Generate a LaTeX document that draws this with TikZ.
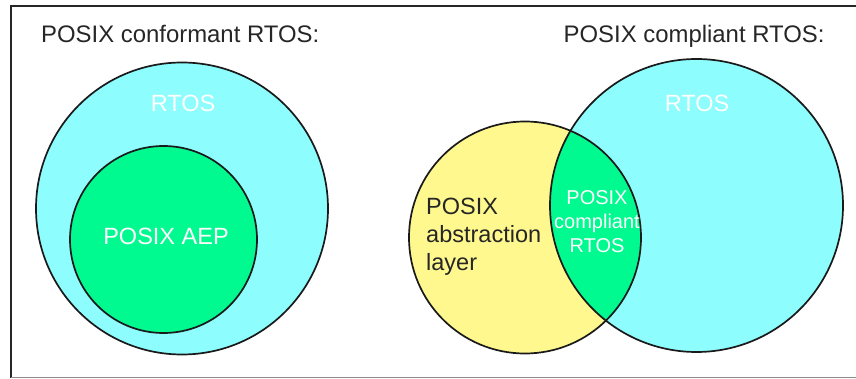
\documentclass[tikz,border=0pt]{standalone}
\usepackage{fontspec}
\setmainfont{Liberation Sans}
\definecolor{rtoscyan}{HTML}{8DFDFE}
\definecolor{aepgreen}{HTML}{00FA8F}
\definecolor{layeryellow}{HTML}{FEF88E}
\definecolor{edge}{HTML}{1A1A1A}
\begin{document}
\begin{tikzpicture}[x=1pt,y=-1pt,
  set/.style={draw=edge,line width=1.7pt},
  bigtext/.style={inner sep=0pt,font=\fontsize{23.5}{28}\selectfont},
  titletext/.style={inner sep=0pt,font=\fontsize{23.9}{28}\selectfont},
  smalltext/.style={inner sep=0pt,font=\fontsize{20}{24}\selectfont},
]
\useasboundingbox (0,0) rectangle (856,379);
% frame
\draw[line width=2pt,draw=black!85] (11,378) -- (11,6) -- (856,6);
\draw[line width=1.5pt,draw=black!45] (11,377.5) -- (856,377.5);

% left diagram
\coordinate (lc) at (182,208.5);
\coordinate (ic) at (163.5,239.5);
\fill[rtoscyan] (lc) circle[radius=146pt];
\draw[set] (lc) circle[radius=146pt];
\fill[aepgreen] (ic) circle[radius=93.5pt];
\draw[set] (ic) circle[radius=93.5pt];

% right diagram
\coordinate (yc) at (525,237.5);
\coordinate (rc) at (696.5,205.5);
\fill[rtoscyan] (rc) circle[radius=146.5pt];
\fill[layeryellow] (yc) circle[radius=116pt];
\begin{scope}
  \clip (yc) circle[radius=116pt];
  \fill[aepgreen] (rc) circle[radius=146.5pt];
\end{scope}
\draw[set] (yc) circle[radius=116pt];
\draw[set] (rc) circle[radius=146.5pt];

% texts
\node[titletext,anchor=base west,text=black!85] (t1) at (41,43) {POSIX conformant RTOS:};
\node[titletext,anchor=base west,text=black!85] (t2) at (563.5,43) {POSIX compliant RTOS:};
\node[bigtext,anchor=base,text=white] (r1) at (183,112) {RTOS};
\node[bigtext,anchor=base,text=white] (aep) at (166,244) {POSIX AEP};
\node[bigtext,anchor=base,text=white] (r2) at (697,112) {RTOS};
\node[bigtext,anchor=north west,align=left,text=black!85] (abs) at (426,197.5) {POSIX\\abstraction\\layer};
\node[smalltext,anchor=north,align=center,text=white] (lens) at (597,190) {POSIX\\compliant\\RTOS};
\end{tikzpicture}
\end{document}
